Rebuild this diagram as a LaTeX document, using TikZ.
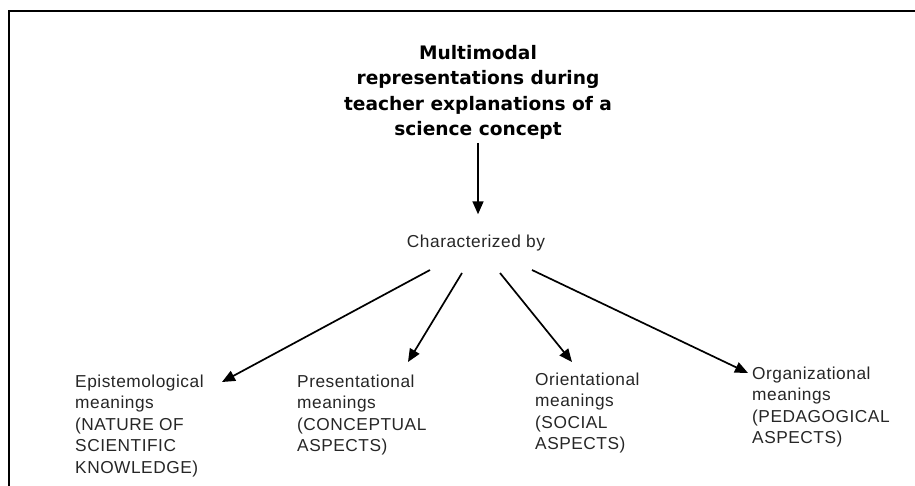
\documentclass[tikz,border=0pt]{standalone}
\usepackage{fontspec}
\setmainfont{Liberation Sans}
\newfontfamily\headfont{DejaVu Sans}
\newfontfamily\bodyfont[LetterSpace=3]{Liberation Sans}
\usetikzlibrary{arrows.meta,calc}

\tikzset{
  frameline/.style={line width=2.8pt, line join=miter, line cap=rect},
  headbox/.style={inner sep=0pt, align=center,
    font=\headfont\bfseries\fontsize{18.6}{25.5}\selectfont},
  labelbox/.style={inner sep=0pt, align=left, anchor=north west, text=black!85,
    font=\bodyfont\fontsize{17.3}{21.5}\selectfont},
  linkbox/.style={inner sep=0pt, anchor=base, text=black!85,
    font=\bodyfont\fontsize{17.3}{21.5}\selectfont},
  arr/.style={line width=1.7pt, -{Triangle[length=13pt,width=11pt]}},
}

\begin{document}
\begin{tikzpicture}[x=1pt,y=-1pt]
  \useasboundingbox (0,0) rectangle (915,486);

  % open frame: top and left rules
  \draw[frameline] (9,486) -- (9,11) -- (915,11);

  % central concept
  \node[headbox, anchor=north] (title) at (478,45)
    {Multimodal\\representations during\\teacher explanations of a\\science concept};

  \node[linkbox] (char) at (476,248) {Characterized by};

  % four kinds of meaning
  \node[labelbox] (epi) at (75,374.5)
    {Epistemological\\meanings\\(NATURE OF\\SCIENTIFIC\\KNOWLEDGE)};
  \node[labelbox] (pres) at (297,374.5)
    {Presentational\\meanings\\(CONCEPTUAL\\ASPECTS)};
  \node[labelbox] (orie) at (535,372.5)
    {Orientational\\meanings\\(SOCIAL\\ASPECTS)};
  \node[labelbox] (orga) at (752,366.5)
    {Organizational\\meanings\\(PEDAGOGICAL\\ASPECTS)};

  % arrow ends
  \coordinate (s1) at ($(char.base)+(-46,22)$);
  \coordinate (s2) at ($(char.base)+(-14,25)$);
  \coordinate (s3) at ($(char.base)+(24,25)$);
  \coordinate (s4) at ($(char.base)+(56,22)$);
  \coordinate (t1) at ($(epi.north west)+(147,7.5)$);
  \coordinate (t2) at ($(pres.north west)+(111,-12.5)$);
  \coordinate (t3) at ($(orie.north west)+(37,-10.5)$);
  \coordinate (t4) at ($(orga.north west)+(-4,6.5)$);

  % connectors
  \draw[arr, shorten <=3pt, shorten >=21pt] (title.south) -- (title.south |- char.north);
  \draw[arr] (s1) -- (t1);
  \draw[arr] (s2) -- (t2);
  \draw[arr] (s3) -- (t3);
  \draw[arr] (s4) -- (t4);
\end{tikzpicture}
\end{document}
